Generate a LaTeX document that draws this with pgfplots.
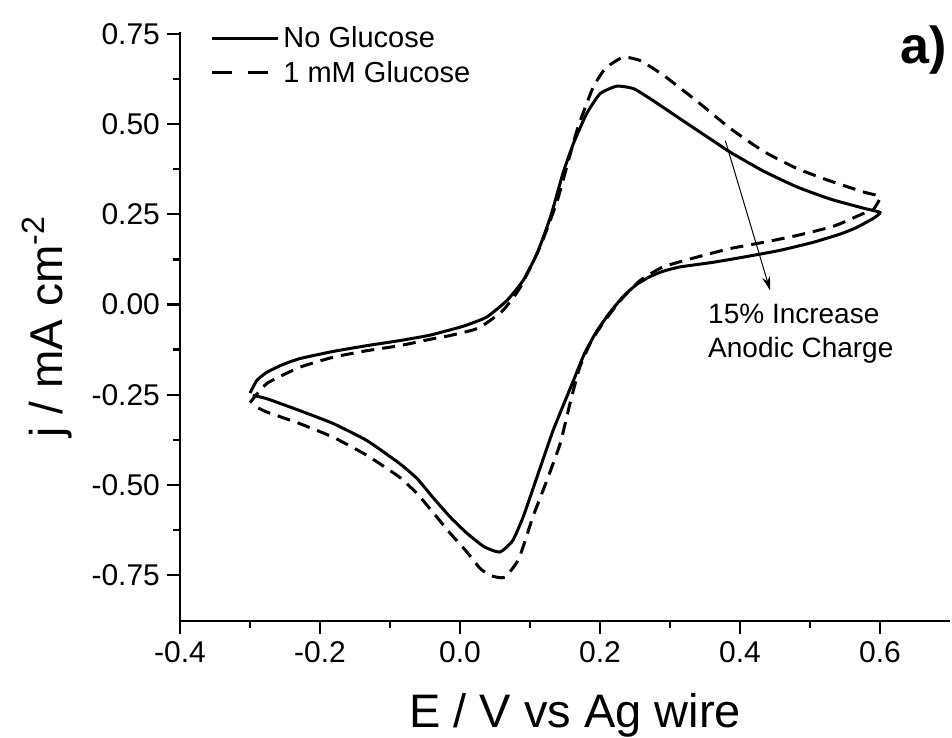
\documentclass[border=0pt]{standalone}
\usepackage{fontspec}
\setmainfont{Liberation Sans}
\usepackage{pgfplots}
\pgfplotsset{compat=1.18}
\usetikzlibrary{arrows.meta}

\begin{document}
\begin{tikzpicture}
\useasboundingbox (-90pt,-58.5pt) rectangle (386pt,310.5pt);
\begin{axis}[
  at={(0,0)}, anchor=south west,
  scale only axis, width=385pt, height=294.5pt,
  xmin=-0.4, xmax=0.7, ymin=-0.877, ymax=0.755,
  axis x line*=bottom, axis y line*=left,
  axis line style={line width=1.2pt, -},
  xtick={-0.4,-0.2,0,0.2,0.4,0.6},
  ytick={-0.75,-0.5,-0.25,0,0.25,0.5,0.75},
  minor x tick num=1, minor y tick num=1,
  tick align=outside,
  major tick length=6.5pt, minor tick length=3.5pt,
  every tick/.style={black, line width=1.2pt},
  tick label style={font=\fontsize{15}{18}\selectfont},
  /pgf/number format/assume math mode=true,
  xticklabel style={/pgf/number format/.cd, fixed, fixed zerofill, precision=1},
  yticklabel style={/pgf/number format/.cd, fixed, fixed zerofill, precision=2},
  xlabel={E / V vs Ag wire},
  ylabel={j / mA cm\textsuperscript{-2}},
  every axis x label/.style={at={(axis description cs:0.513,-0.18)}, anchor=base,
    font=\fontsize{23.5}{27}\selectfont},
  every axis y label/.style={at={(axis description cs:-0.153,0.5)}, rotate=90, anchor=base,
    font=\fontsize{23}{27}\selectfont},
  legend style={draw=none, fill=none, at={(axis description cs:0.039,1.016)},
    anchor=north west, inner sep=0pt, row sep=1pt,
    font=\fontsize{14.5}{17}\selectfont, cells={anchor=west}},
  legend cell align=left,
  clip=false,
]
\addlegendimage{line width=1.5pt, legend image code/.code={\draw[line width=1.5pt] (0pt,0pt) -- (33pt,0pt);}}
\addlegendentry{No Glucose}
\addlegendimage{line width=1.5pt, legend image code/.code={\draw[line width=1.5pt, dash pattern=on 10pt off 8pt] (0pt,0pt) -- (33pt,0pt);}}
\addlegendentry{1 mM Glucose}

% No glucose: anodic sweep then cathodic sweep
\addplot[line width=1.5pt, smooth, tension=0.3, forget plot] coordinates {
(-0.300,-0.245) (-0.290,-0.210) (-0.276,-0.188) (-0.255,-0.168) (-0.229,-0.150)
(-0.181,-0.130) (-0.133,-0.114) (-0.086,-0.100) (-0.043,-0.085) (0.005,-0.060)
(0.038,-0.035) (0.067,0.011) (0.090,0.066) (0.110,0.141) (0.129,0.241)
(0.147,0.363) (0.162,0.446) (0.181,0.529) (0.200,0.584) (0.224,0.605)
(0.248,0.598) (0.275,0.566) (0.314,0.515) (0.362,0.453) (0.386,0.422)
(0.433,0.370) (0.481,0.326) (0.529,0.292) (0.576,0.267) (0.600,0.255)
(0.590,0.238) (0.565,0.212) (0.543,0.195) (0.504,0.172) (0.457,0.150)
(0.410,0.133) (0.362,0.117) (0.314,0.104) (0.290,0.092) (0.271,0.077)
(0.252,0.055) (0.233,0.022) (0.213,-0.025) (0.195,-0.075) (0.178,-0.135)
(0.162,-0.211) (0.133,-0.349) (0.110,-0.478) (0.090,-0.590) (0.075,-0.655)
(0.057,-0.686) (0.035,-0.672) (0.010,-0.634) (-0.014,-0.589) (-0.039,-0.534)
(-0.061,-0.483) (-0.086,-0.441) (-0.133,-0.377) (-0.181,-0.330) (-0.229,-0.294)
(-0.276,-0.261) (-0.296,-0.252)
};

% 1 mM glucose
\addplot[line width=1.5pt, smooth, tension=0.3, dash pattern=on 6.5pt off 4pt, forget plot] coordinates {
(-0.300,-0.272) (-0.276,-0.219) (-0.229,-0.174) (-0.181,-0.146) (-0.133,-0.128)
(-0.086,-0.114) (-0.039,-0.095) (-0.019,-0.088) (0.010,-0.075) (0.029,-0.063)
(0.061,-0.017) (0.086,0.047) (0.114,0.158) (0.139,0.288) (0.167,0.482)
(0.190,0.601) (0.208,0.655) (0.233,0.685) (0.257,0.676) (0.290,0.636)
(0.338,0.564) (0.386,0.488) (0.433,0.425) (0.481,0.377) (0.529,0.342)
(0.576,0.312) (0.600,0.298) (0.590,0.262) (0.576,0.252) (0.547,0.227)
(0.529,0.214) (0.481,0.191) (0.433,0.172) (0.386,0.155) (0.338,0.131)
(0.290,0.104) (0.257,0.066) (0.229,0.011) (0.205,-0.050) (0.188,-0.100)
(0.171,-0.174) (0.157,-0.275) (0.143,-0.386) (0.124,-0.488) (0.104,-0.589)
(0.084,-0.705) (0.064,-0.756) (0.045,-0.752) (0.029,-0.732) (0.010,-0.686)
(-0.014,-0.634) (-0.039,-0.575) (-0.061,-0.525) (-0.086,-0.479) (-0.133,-0.418)
(-0.181,-0.368) (-0.229,-0.330) (-0.276,-0.298) (-0.290,-0.285)
};

\draw[line width=0.5pt, -{Stealth[length=7pt, width=4pt]}] (axis cs:0.379,0.454) -- (axis cs:0.443,0.039);
\node[anchor=base west, inner sep=0pt, font=\fontsize{14}{17}\selectfont]
  at (axis cs:0.354,-0.052) {15\% Increase};
\node[anchor=base west, inner sep=0pt, font=\fontsize{14}{17}\selectfont]
  at (axis cs:0.354,-0.147) {Anodic Charge};
\node[anchor=base west, inner sep=0pt, font=\fontsize{26}{30}\selectfont\bfseries]
  at (axis cs:0.6286,0.668) {a)};
\end{axis}
\end{tikzpicture}
\end{document}
